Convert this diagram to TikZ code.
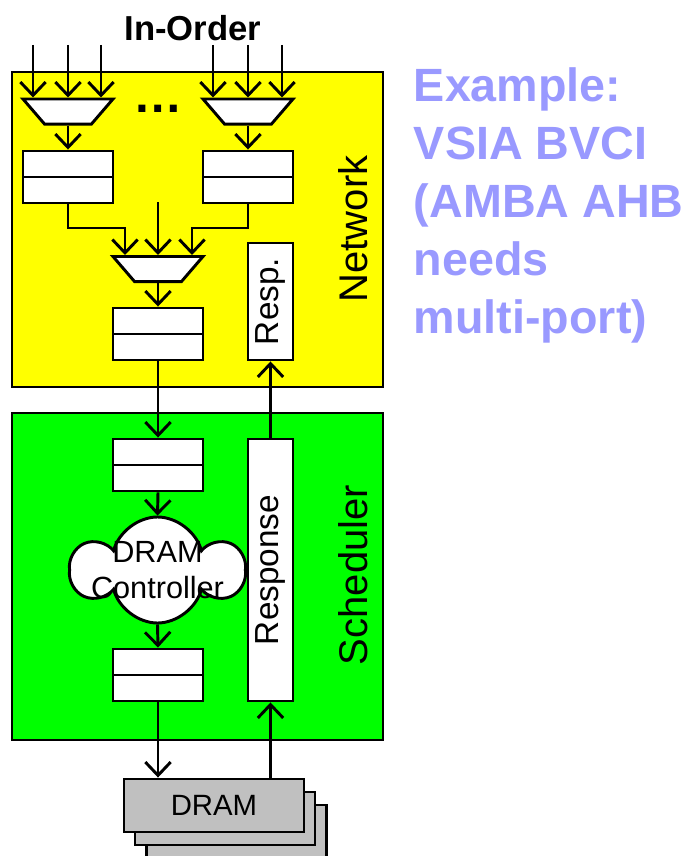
\documentclass[tikz,border=0pt]{standalone}
\usepackage{fontspec}
\setmainfont{Liberation Sans}
\usetikzlibrary{shapes.geometric,shapes.symbols,arrows.meta}
\definecolor{netyellow}{HTML}{FFFF00}
\definecolor{schedgreen}{HTML}{00FF00}
\definecolor{dramgray}{HTML}{C0C0C0}
\definecolor{notelilac}{HTML}{9999FF}
\newcommand{\fsz}[1]{\fontsize{#1}{1.15\dimexpr#1pt\relax}\selectfont}

\begin{document}
\begin{tikzpicture}[x = 0.75pt, y = -0.75pt, line width = 2.2pt,
  flow/.style = {-{Straight Barb[length=10pt,width=19pt]}},
  fifo/.style = {draw, fill = white, minimum width = 67.5pt, minimum height = 39pt, inner sep = 0pt,
    path picture = {\draw (path picture bounding box.west) -- (path picture bounding box.east);}},
  mux/.style = {draw, fill = white, trapezium, shape border rotate = 180, trapezium angle = 49.3,
    inner xsep = 17.6pt, inner ysep = 9.4pt},
  slab/.style = {draw, fill = white, minimum width = 33.75pt, inner sep = 0pt},
  slabtext/.style = {rotate = 90, font = \fsz{25}},
  dramcard/.style = {draw, fill = dramgray, minimum width = 135pt, minimum height = 39.75pt,
    inner sep = 0pt, font = \fsz{22}},
  unitname/.style = {rotate = 90, font = \fsz{30}}]
\useasboundingbox (0,0) rectangle (687,856);
% the two units
\draw[fill = netyellow] (12,72) rectangle (383,387);
\draw[fill = schedgreen] (12,413) rectangle (383,740);
\node[unitname] (netname) at (353,229) {Network};
\node[unitname] (schedname) at (353,575) {Scheduler};
\node[font = \bfseries\fsz{26}] (title) at (193,28) {In-Order};
% network
\node[mux] (m1) at (68,111.5) {};
\node[mux] (m2) at (248,111.5) {};
\node[font = \bfseries\fsz{37}, anchor = base] (dots) at (158,112) {…};
\node[fifo] (f1) at (68,177) {};
\node[fifo] (f2) at (248,177) {};
\node[mux] (m3) at (158,269) {};
\node[fifo] (f3) at (158,334) {};
\node[slab, minimum height = 87.75pt, label = {[slabtext]center:Resp.}] (resp) at (270.5,301.5) {};
% scheduler
\node[fifo] (f4) at (158,465) {};
\node[cloud, draw, fill = white, cloud puffs = 6, aspect = 1.6,
  minimum width = 127pt, minimum height = 79.5pt, inner sep = 0pt,
  label = {[align = center, font = \fsz{23}]center:DRAM\\Controller}] (ctrl) at (157.5,570) {};
\node[fifo] (f5) at (158,675) {};
\node[slab, minimum height = 196.5pt, label = {[slabtext]center:Response}] (response) at (270.5,570) {};
% memory
\node[dramcard] (dram3) at (236.5,831.5) {};
\node[dramcard] (dram2) at (225,818.5) {};
\node[dramcard] (dram) at (214,805.5) {DRAM};
% connections
\foreach \x in {33,68,101} {\coordinate (in\x) at (\x,45); \draw[flow] (in\x) -- (in\x |- m1.north);}
\foreach \x in {213,248,282} {\coordinate (in\x) at (\x,45); \draw[flow] (in\x) -- (in\x |- m2.north);}
\draw[flow] (m1) -- (f1);
\draw[flow] (m2) -- (f2);
\coordinate (j1) at (125,228);
\coordinate (j2) at (192,228);
\coordinate (jm) at (158,202);
\draw[flow] (f1.south) |- (j1) -- (j1 |- m3.north);
\draw[flow] (f2.south) |- (j2) -- (j2 |- m3.north);
\draw[flow] (jm) -- (m3.north);
\draw[flow] (m3) -- (f3);
\draw[flow] (f3) -- (f4);
\draw[flow] (f4.south) -- (ctrl.north);
\draw[flow] (ctrl.south) -- (f5.north);
\draw[flow] (f5.south) -- (f5.south |- dram.north);
\draw[flow] (response.south |- dram.north) -- (response.south);
\draw[flow] (response.north) -- (resp.south);
% note
\node[anchor = base west, align = left, text = notelilac, font = \bfseries\fontsize{35}{43.5}\selectfont]
  (note) at (408,333) {Example:\\VSIA BVCI\\(AMBA AHB\\needs\\multi-port)};
\end{tikzpicture}
\end{document}
